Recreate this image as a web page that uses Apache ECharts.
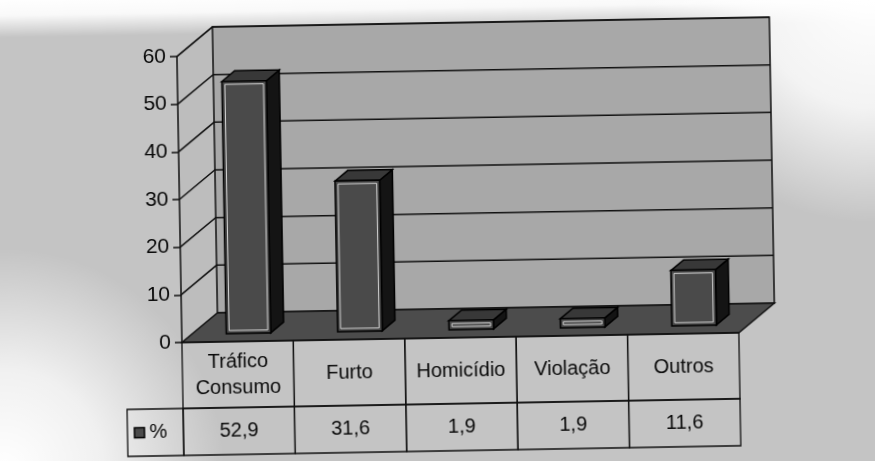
<!DOCTYPE html>
<html>
<head>
<meta charset="utf-8">
<script src="https://cdn.jsdelivr.net/npm/echarts@6/dist/echarts.min.js"></script>
<style>
html, body { margin: 0; padding: 0; background: #c4c4c4; overflow: hidden; }
/* a digitalização original está levemente girada; a área é um pouco maior para cobrir os cantos */
#main { width: 895px; height: 481px; margin: -10px 0 0 -10px; transform: rotate(-1deg); }
</style>
</head>
<body>
<div id="main"></div>
<script>
// dados do gráfico
var categories = ['Tráfico\nConsumo', 'Furto', 'Homicídio', 'Violação', 'Outros'];
var percentValues = [52.9, 31.6, 1.9, 1.9, 11.6];
var yTicks = [0, 10, 20, 30, 40, 50, 60];
var seriesName = '%';

// deslocamento da profundidade (falso 3D)
var DX = 36, DY = -29;
var ROW1 = 66, ROW2 = 47, LEGEND_X = 134;
var FONT = "'Liberation Sans', Arial, sans-serif";

function fmt(v) {
	return v.toFixed(1).replace('.', ',');
}

// paredes e chão
function renderWalls(params, api) {
	var cs = params.coordSys;
	var x0 = cs.x, y0 = cs.y, w = cs.width, bottom = cs.y + cs.height;
	return {
		type: 'group',
		children: [
			{ type: 'polygon', shape: { points: [[x0, y0], [x0 + DX, y0 + DY], [x0 + DX, bottom + DY], [x0, bottom]] },
			  style: { fill: '#bdbdbd', stroke: null } },
			{ type: 'rect', shape: { x: x0 + DX, y: y0 + DY, width: w, height: cs.height },
			  style: { fill: '#a8a8a8', stroke: '#111', lineWidth: 1.5 } },
			{ type: 'polygon', shape: { points: [[x0, bottom], [x0 + w, bottom], [x0 + w + DX, bottom + DY], [x0 + DX, bottom + DY]] },
			  style: { fill: '#4c4c4c', stroke: '#111', lineWidth: 1.5 } },
			{ type: 'line', shape: { x1: x0, y1: y0, x2: x0 + DX, y2: y0 + DY },
			  style: { stroke: '#111', lineWidth: 1.5 } }
		]
	};
}

// linhas de grade na parede
function renderGridLine(params, api) {
	var cs = params.coordSys;
	var v = api.value(1);
	var y = api.coord([0, v])[1];
	var x0 = cs.x;
	if (v === 0) return null;
	return {
		type: 'polyline',
		shape: { points: [[x0, y], [x0 + DX, y + DY], [x0 + DX + cs.width, y + DY]] },
		style: { stroke: '#111', lineWidth: 1.5, fill: null }
	};
}

// barras 3D
function renderBar(params, api) {
	var ci = api.value(0), v = api.value(1);
	var base = api.coord([ci, 0]), top = api.coord([ci, v]);
	var bw = api.size([1, 0])[0] * 0.4;
	var fx = DX * 0.28, fy = DY * 0.28;   // face frontal
	var sx = DX * 0.36, sy = DY * 0.36;   // lado
	var x0 = base[0] - bw / 2 + fx + 1, x1 = x0 + bw;
	var yb = base[1] + fy, yt = top[1] + fy;
	return {
		type: 'group',
		children: [
			{ type: 'polygon', shape: { points: [[x1, yt], [x1 + sx, yt + sy], [x1 + sx, yb + sy], [x1, yb]] },
			  style: { fill: '#141414', stroke: '#000', lineWidth: 1.5 } },
			{ type: 'polygon', shape: { points: [[x0, yt], [x0 + sx, yt + sy], [x1 + sx, yt + sy], [x1, yt]] },
			  style: { fill: '#383838', stroke: '#000', lineWidth: 1.5 } },
			{ type: 'rect', shape: { x: x0, y: yt, width: bw, height: yb - yt },
			  style: { fill: '#4a4a4a', stroke: '#000', lineWidth: 1.5 } },
			{ type: 'rect', shape: { x: x0 + 3, y: yt + 3, width: bw - 6, height: Math.max(yb - yt - 6, 1) },
			  style: { fill: null, stroke: '#d0d0d0', lineWidth: 1 } }
		]
	};
}

// tabela de dados
function renderTable(params, api) {
	var ci = api.value(0), v = api.value(1);
	var p = api.coord([ci, 0]);
	var bw = api.size([1, 0])[0];
	var xL = p[0] - bw / 2, yT = p[1];
	var cellStyle = { fill: 'rgba(0,0,0,0)', stroke: '#111', lineWidth: 1.3 };
	var txt = { fill: '#0a0a0a', font: '20px ' + FONT, align: 'center', verticalAlign: 'middle' };
	var children = [
		{ type: 'rect', shape: { x: xL, y: yT, width: bw, height: ROW1 }, style: cellStyle },
		{ type: 'text', x: p[0], y: yT + ROW1 / 2,
		  style: echarts.util.extend({ text: categories[ci], lineHeight: 26 }, txt) },
		{ type: 'rect', shape: { x: xL, y: yT + ROW1, width: bw, height: ROW2 }, style: cellStyle },
		{ type: 'text', x: p[0], y: yT + ROW1 + ROW2 / 2,
		  style: echarts.util.extend({ text: fmt(v) }, txt) }
	];
	if (ci === 0) {
		children.push(
			{ type: 'rect', shape: { x: LEGEND_X, y: yT + ROW1, width: xL - LEGEND_X, height: ROW2 }, style: cellStyle },
			{ type: 'rect', shape: { x: LEGEND_X + 7, y: yT + ROW1 + ROW2 / 2 - 5, width: 10, height: 10 },
			  style: { fill: '#4a4a4a', stroke: '#000', lineWidth: 1.5 } },
			{ type: 'text', x: LEGEND_X + 22, y: yT + ROW1 + ROW2 / 2,
			  style: { text: seriesName, fill: '#0a0a0a', font: '20px ' + FONT, align: 'left', verticalAlign: 'middle' } }
		);
	}
	return { type: 'group', children: children };
}

function buildChart()
{
	var myChart = echarts.init(document.getElementById('main'));

	var barData = percentValues.map(function (v, i) { return [i, v]; });
	var tickData = yTicks.map(function (t) { return [0, t]; });

	var option = {
		backgroundColor: '#c4c4c4',
		animation: false,
		// manchas claras do papel digitalizado
		graphic: [
			{ type: 'rect', z: -1, silent: true, shape: { x: 0, y: 0, width: 895, height: 40 },
			  style: { fill: new echarts.graphic.LinearGradient(0, 0, 0, 1, [
				{ offset: 0, color: 'rgba(255,255,255,1)' },
				{ offset: 0.45, color: 'rgba(255,255,255,0.9)' },
				{ offset: 1, color: 'rgba(255,255,255,0)' }]) } },
			{ type: 'circle', z: -1, silent: true, shape: { cx: 885, cy: 10, r: 230 },
			  style: { fill: new echarts.graphic.RadialGradient(0.5, 0.5, 0.5, [
				{ offset: 0, color: 'rgba(255,255,255,1)' },
				{ offset: 0.5, color: 'rgba(255,255,255,0.8)' },
				{ offset: 1, color: 'rgba(255,255,255,0)' }]) } },
			{ type: 'circle', z: -1, silent: true, shape: { cx: 10, cy: 471, r: 220 },
			  style: { fill: new echarts.graphic.RadialGradient(0.5, 0.5, 0.5, [
				{ offset: 0, color: 'rgba(255,255,255,1)' },
				{ offset: 0.45, color: 'rgba(255,255,255,0.75)' },
				{ offset: 1, color: 'rgba(255,255,255,0)' }]) } }
		],
		grid: { left: 190, right: 148, top: 62, bottom: 133 },
		xAxis: {
			type: 'category',
			data: categories,
			axisLine: { show: false },
			axisTick: { show: false },
			axisLabel: { show: false }
		},
		yAxis: {
			type: 'value',
			min: 0,
			max: 60,
			interval: 10,
			z: 5,
			axisLine: { show: true, lineStyle: { color: '#111', width: 1.5 } },
			axisTick: { show: true, length: 7, lineStyle: { color: '#111', width: 1.5 } },
			axisLabel: { margin: 11, color: '#0a0a0a', fontSize: 21, fontFamily: FONT },
			splitLine: { show: false }
		},
		series: [
			{ type: 'custom', z: 1, renderItem: renderWalls, data: [[0, 0]], silent: true },
			{ type: 'custom', z: 2, renderItem: renderGridLine, data: tickData, silent: true },
			{ type: 'custom', name: seriesName, z: 3, renderItem: renderBar, data: barData },
			{ type: 'custom', z: 4, renderItem: renderTable, data: barData, silent: true }
		]
	};

	myChart.setOption(option);
}

buildChart();
</script>
</body>
</html>
